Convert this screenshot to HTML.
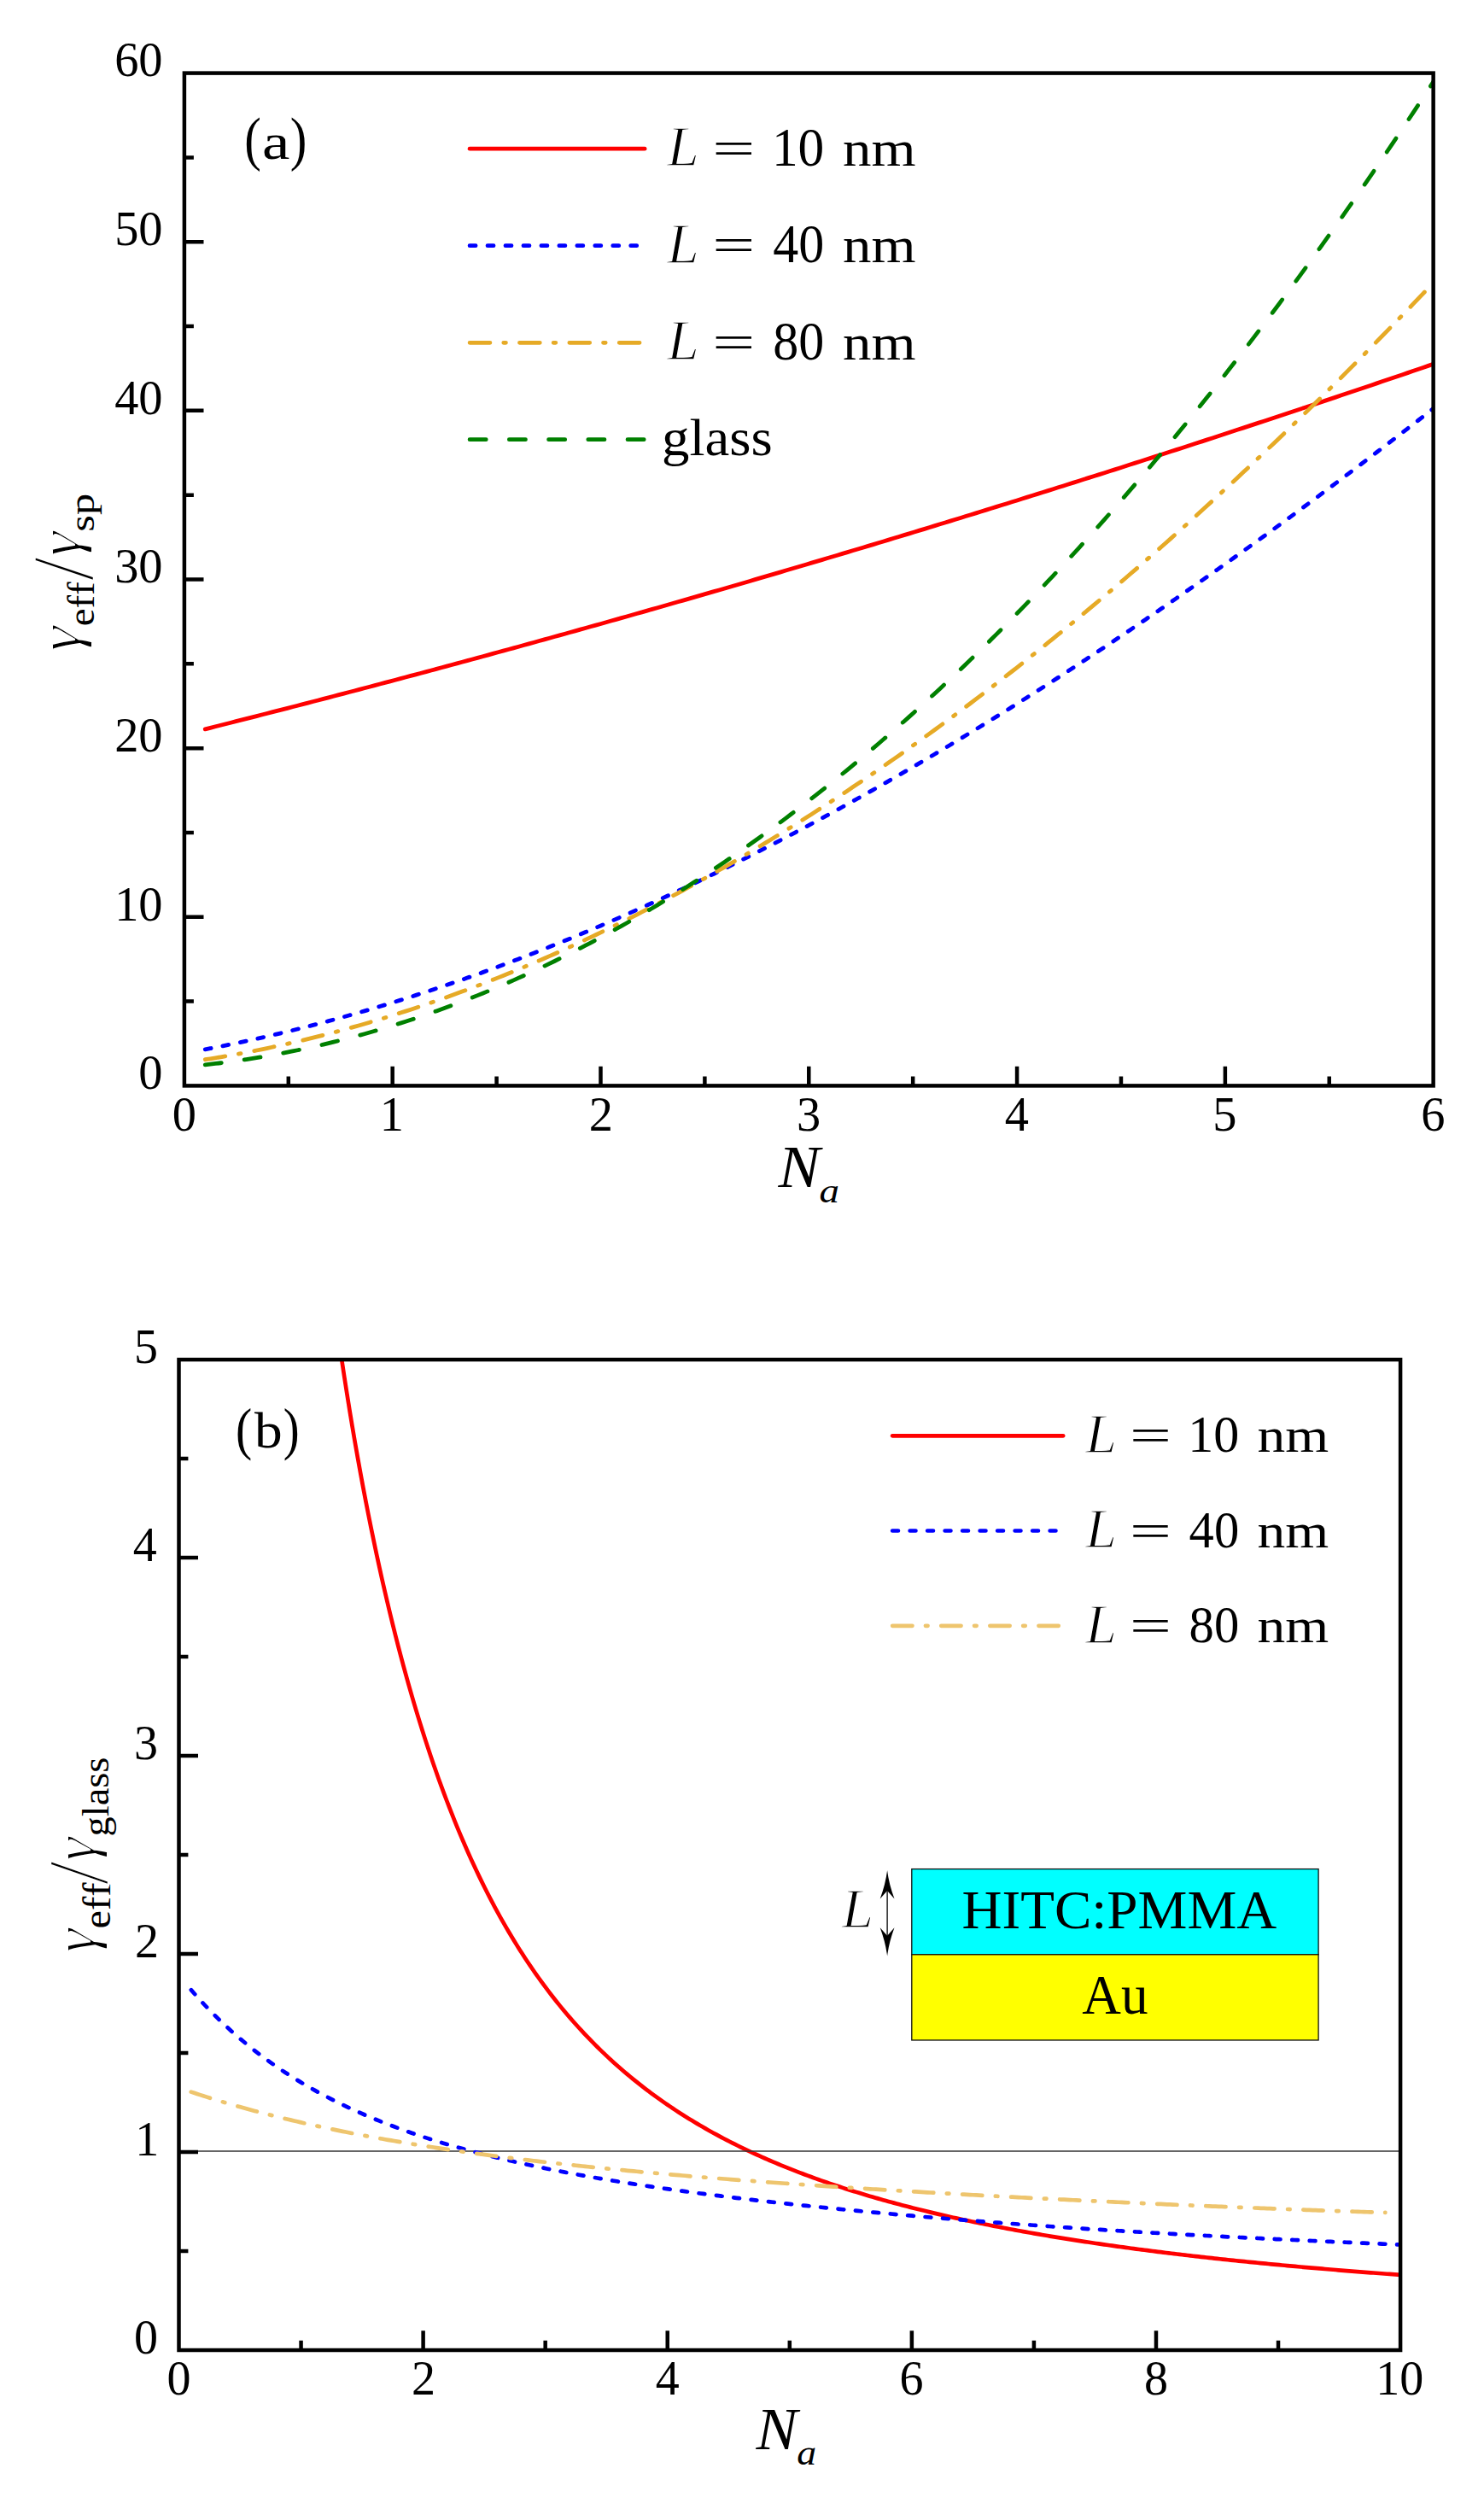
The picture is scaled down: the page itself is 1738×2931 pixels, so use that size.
<!DOCTYPE html>
<html lang="en"><head><meta charset="utf-8"><title>Figure: effective decay rates vs N_a</title>
<style>
html,body{margin:0;padding:0;background:#fff}
svg{display:block}
.t text, text{font-family:"Liberation Serif","DejaVu Serif",serif;font-kerning:none;font-variant-ligatures:none;fill:#000;stroke:#fff;stroke-width:0}
</style></head>
<body>
<svg width="1738" height="2931" viewBox="0 0 1738 2931">
<rect width="1738" height="2931" fill="#fff"/>
<clipPath id="ca"><rect x="215.9" y="85.6" width="1462.75" height="1185.80"/></clipPath>
<g clip-path="url(#ca)" fill="none" stroke-linecap="round" stroke-linejoin="round" stroke-width="4.8">
<path d="M240.28 853.82 L246.30 852.31 L252.32 850.79 L258.33 849.27 L264.35 847.75 L270.37 846.22 L276.39 844.70 L282.41 843.17 L288.43 841.64 L294.44 840.10 L300.46 838.57 L306.48 837.03 L312.50 835.49 L318.52 833.95 L324.54 832.40 L330.55 830.86 L336.57 829.31 L342.59 827.75 L348.61 826.20 L354.63 824.64 L360.64 823.09 L366.66 821.52 L372.68 819.96 L378.70 818.40 L384.72 816.83 L390.74 815.26 L396.75 813.68 L402.77 812.11 L408.79 810.53 L414.81 808.95 L420.83 807.37 L426.85 805.79 L432.86 804.20 L438.88 802.61 L444.90 801.02 L450.92 799.43 L456.94 797.83 L462.96 796.23 L468.97 794.63 L474.99 793.03 L481.01 791.43 L487.03 789.82 L493.05 788.21 L499.07 786.60 L505.08 784.99 L511.10 783.37 L517.12 781.75 L523.14 780.13 L529.16 778.51 L535.18 776.88 L541.19 775.25 L547.21 773.62 L553.23 771.99 L559.25 770.36 L565.27 768.72 L571.29 767.08 L577.30 765.44 L583.32 763.80 L589.34 762.15 L595.36 760.50 L601.38 758.85 L607.39 757.20 L613.41 755.54 L619.43 753.88 L625.45 752.22 L631.47 750.56 L637.49 748.90 L643.50 747.23 L649.52 745.56 L655.54 743.89 L661.56 742.22 L667.58 740.54 L673.60 738.86 L679.61 737.18 L685.63 735.50 L691.65 733.81 L697.67 732.13 L703.69 730.44 L709.71 728.74 L715.72 727.05 L721.74 725.35 L727.76 723.65 L733.78 721.95 L739.80 720.25 L745.82 718.54 L751.83 716.83 L757.85 715.12 L763.87 713.41 L769.89 711.70 L775.91 709.98 L781.93 708.26 L787.94 706.54 L793.96 704.81 L799.98 703.09 L806.00 701.36 L812.02 699.63 L818.03 697.89 L824.05 696.16 L830.07 694.42 L836.09 692.68 L842.11 690.93 L848.13 689.19 L854.14 687.44 L860.16 685.69 L866.18 683.94 L872.20 682.19 L878.22 680.43 L884.24 678.67 L890.25 676.91 L896.27 675.15 L902.29 673.38 L908.31 671.61 L914.33 669.84 L920.35 668.07 L926.36 666.30 L932.38 664.52 L938.40 662.74 L944.42 660.96 L950.44 659.17 L956.46 657.39 L962.47 655.60 L968.49 653.81 L974.51 652.01 L980.53 650.22 L986.55 648.42 L992.57 646.62 L998.58 644.82 L1004.60 643.01 L1010.62 641.20 L1016.64 639.40 L1022.66 637.58 L1028.67 635.77 L1034.69 633.95 L1040.71 632.13 L1046.73 630.31 L1052.75 628.49 L1058.77 626.67 L1064.78 624.84 L1070.80 623.01 L1076.82 621.17 L1082.84 619.34 L1088.86 617.50 L1094.88 615.66 L1100.89 613.82 L1106.91 611.98 L1112.93 610.13 L1118.95 608.28 L1124.97 606.43 L1130.99 604.58 L1137.00 602.72 L1143.02 600.87 L1149.04 599.01 L1155.06 597.14 L1161.08 595.28 L1167.10 593.41 L1173.11 591.54 L1179.13 589.67 L1185.15 587.80 L1191.17 585.92 L1197.19 584.04 L1203.21 582.16 L1209.22 580.28 L1215.24 578.39 L1221.26 576.51 L1227.28 574.62 L1233.30 572.72 L1239.31 570.83 L1245.33 568.93 L1251.35 567.03 L1257.37 565.13 L1263.39 563.23 L1269.41 561.32 L1275.42 559.41 L1281.44 557.50 L1287.46 555.59 L1293.48 553.68 L1299.50 551.76 L1305.52 549.84 L1311.53 547.92 L1317.55 545.99 L1323.57 544.07 L1329.59 542.14 L1335.61 540.21 L1341.63 538.27 L1347.64 536.34 L1353.66 534.40 L1359.68 532.46 L1365.70 530.51 L1371.72 528.57 L1377.74 526.62 L1383.75 524.67 L1389.77 522.72 L1395.79 520.77 L1401.81 518.81 L1407.83 516.85 L1413.85 514.89 L1419.86 512.93 L1425.88 510.96 L1431.90 508.99 L1437.92 507.02 L1443.94 505.05 L1449.96 503.07 L1455.97 501.10 L1461.99 499.12 L1468.01 497.13 L1474.03 495.15 L1480.05 493.16 L1486.06 491.18 L1492.08 489.18 L1498.10 487.19 L1504.12 485.19 L1510.14 483.20 L1516.16 481.20 L1522.17 479.19 L1528.19 477.19 L1534.21 475.18 L1540.23 473.17 L1546.25 471.16 L1552.27 469.15 L1558.28 467.13 L1564.30 465.11 L1570.32 463.09 L1576.34 461.07 L1582.36 459.04 L1588.38 457.01 L1594.39 454.98 L1600.41 452.95 L1606.43 450.92 L1612.45 448.88 L1618.47 446.84 L1624.49 444.80 L1630.50 442.75 L1636.52 440.71 L1642.54 438.66 L1648.56 436.61 L1654.58 434.56 L1660.60 432.50 L1666.61 430.44 L1672.63 428.38 L1678.65 426.32" stroke="#FF0000"/>
<path d="M240.28 1228.85 L246.30 1227.70 L252.32 1226.53 L258.33 1225.34 L264.35 1224.12 L270.37 1222.89 L276.39 1221.64 L282.41 1220.36 L288.43 1219.07 L294.44 1217.75 L300.46 1216.42 L306.48 1215.07 L312.50 1213.69 L318.52 1212.30 L324.54 1210.88 L330.55 1209.45 L336.57 1208.00 L342.59 1206.53 L348.61 1205.03 L354.63 1203.52 L360.64 1201.99 L366.66 1200.44 L372.68 1198.87 L378.70 1197.28 L384.72 1195.67 L390.74 1194.04 L396.75 1192.39 L402.77 1190.73 L408.79 1189.04 L414.81 1187.34 L420.83 1185.61 L426.85 1183.87 L432.86 1182.11 L438.88 1180.32 L444.90 1178.52 L450.92 1176.71 L456.94 1174.87 L462.96 1173.01 L468.97 1171.14 L474.99 1169.24 L481.01 1167.33 L487.03 1165.40 L493.05 1163.45 L499.07 1161.48 L505.08 1159.50 L511.10 1157.49 L517.12 1155.47 L523.14 1153.43 L529.16 1151.37 L535.18 1149.29 L541.19 1147.19 L547.21 1145.08 L553.23 1142.95 L559.25 1140.80 L565.27 1138.63 L571.29 1136.44 L577.30 1134.24 L583.32 1132.02 L589.34 1129.78 L595.36 1127.52 L601.38 1125.25 L607.39 1122.95 L613.41 1120.65 L619.43 1118.32 L625.45 1115.97 L631.47 1113.61 L637.49 1111.23 L643.50 1108.83 L649.52 1106.42 L655.54 1103.99 L661.56 1101.54 L667.58 1099.07 L673.60 1096.59 L679.61 1094.09 L685.63 1091.57 L691.65 1089.04 L697.67 1086.49 L703.69 1083.92 L709.71 1081.33 L715.72 1078.73 L721.74 1076.11 L727.76 1073.48 L733.78 1070.83 L739.80 1068.16 L745.82 1065.47 L751.83 1062.77 L757.85 1060.05 L763.87 1057.32 L769.89 1054.57 L775.91 1051.80 L781.93 1049.02 L787.94 1046.22 L793.96 1043.40 L799.98 1040.57 L806.00 1037.72 L812.02 1034.86 L818.03 1031.98 L824.05 1029.08 L830.07 1026.17 L836.09 1023.24 L842.11 1020.30 L848.13 1017.34 L854.14 1014.36 L860.16 1011.37 L866.18 1008.36 L872.20 1005.34 L878.22 1002.31 L884.24 999.25 L890.25 996.18 L896.27 993.10 L902.29 990.00 L908.31 986.89 L914.33 983.76 L920.35 980.61 L926.36 977.45 L932.38 974.28 L938.40 971.08 L944.42 967.88 L950.44 964.66 L956.46 961.42 L962.47 958.17 L968.49 954.91 L974.51 951.63 L980.53 948.33 L986.55 945.02 L992.57 941.70 L998.58 938.36 L1004.60 935.01 L1010.62 931.64 L1016.64 928.26 L1022.66 924.86 L1028.67 921.45 L1034.69 918.02 L1040.71 914.59 L1046.73 911.13 L1052.75 907.66 L1058.77 904.18 L1064.78 900.68 L1070.80 897.17 L1076.82 893.65 L1082.84 890.11 L1088.86 886.56 L1094.88 882.99 L1100.89 879.41 L1106.91 875.82 L1112.93 872.21 L1118.95 868.59 L1124.97 864.96 L1130.99 861.31 L1137.00 857.65 L1143.02 853.97 L1149.04 850.28 L1155.06 846.58 L1161.08 842.86 L1167.10 839.13 L1173.11 835.39 L1179.13 831.64 L1185.15 827.87 L1191.17 824.09 L1197.19 820.29 L1203.21 816.48 L1209.22 812.66 L1215.24 808.83 L1221.26 804.98 L1227.28 801.12 L1233.30 797.25 L1239.31 793.37 L1245.33 789.47 L1251.35 785.56 L1257.37 781.64 L1263.39 777.70 L1269.41 773.75 L1275.42 769.79 L1281.44 765.82 L1287.46 761.83 L1293.48 757.83 L1299.50 753.82 L1305.52 749.80 L1311.53 745.77 L1317.55 741.72 L1323.57 737.66 L1329.59 733.59 L1335.61 729.51 L1341.63 725.41 L1347.64 721.31 L1353.66 717.19 L1359.68 713.06 L1365.70 708.92 L1371.72 704.76 L1377.74 700.60 L1383.75 696.42 L1389.77 692.23 L1395.79 688.03 L1401.81 683.82 L1407.83 679.60 L1413.85 675.36 L1419.86 671.12 L1425.88 666.86 L1431.90 662.59 L1437.92 658.31 L1443.94 654.02 L1449.96 649.72 L1455.97 645.40 L1461.99 641.08 L1468.01 636.74 L1474.03 632.40 L1480.05 628.04 L1486.06 623.67 L1492.08 619.29 L1498.10 614.90 L1504.12 610.50 L1510.14 606.09 L1516.16 601.67 L1522.17 597.24 L1528.19 592.80 L1534.21 588.34 L1540.23 583.88 L1546.25 579.41 L1552.27 574.92 L1558.28 570.43 L1564.30 565.92 L1570.32 561.41 L1576.34 556.88 L1582.36 552.35 L1588.38 547.80 L1594.39 543.25 L1600.41 538.68 L1606.43 534.11 L1612.45 529.52 L1618.47 524.93 L1624.49 520.32 L1630.50 515.71 L1636.52 511.08 L1642.54 506.45 L1648.56 501.81 L1654.58 497.15 L1660.60 492.49 L1666.61 487.82 L1672.63 483.14 L1678.65 478.45" stroke="#0000FF" stroke-dasharray="6.95 14.01"/>
<path d="M240.28 1240.71 L246.30 1239.76 L252.32 1238.78 L258.33 1237.77 L264.35 1236.74 L270.37 1235.68 L276.39 1234.60 L282.41 1233.49 L288.43 1232.35 L294.44 1231.18 L300.46 1229.99 L306.48 1228.78 L312.50 1227.53 L318.52 1226.26 L324.54 1224.97 L330.55 1223.65 L336.57 1222.30 L342.59 1220.92 L348.61 1219.52 L354.63 1218.10 L360.64 1216.64 L366.66 1215.16 L372.68 1213.66 L378.70 1212.13 L384.72 1210.57 L390.74 1208.99 L396.75 1207.38 L402.77 1205.75 L408.79 1204.09 L414.81 1202.40 L420.83 1200.69 L426.85 1198.95 L432.86 1197.19 L438.88 1195.40 L444.90 1193.59 L450.92 1191.75 L456.94 1189.88 L462.96 1187.99 L468.97 1186.08 L474.99 1184.14 L481.01 1182.17 L487.03 1180.18 L493.05 1178.16 L499.07 1176.12 L505.08 1174.05 L511.10 1171.96 L517.12 1169.84 L523.14 1167.70 L529.16 1165.53 L535.18 1163.34 L541.19 1161.12 L547.21 1158.87 L553.23 1156.61 L559.25 1154.31 L565.27 1151.99 L571.29 1149.65 L577.30 1147.28 L583.32 1144.89 L589.34 1142.47 L595.36 1140.03 L601.38 1137.56 L607.39 1135.07 L613.41 1132.56 L619.43 1130.02 L625.45 1127.45 L631.47 1124.86 L637.49 1122.25 L643.50 1119.61 L649.52 1116.94 L655.54 1114.26 L661.56 1111.54 L667.58 1108.81 L673.60 1106.05 L679.61 1103.26 L685.63 1100.45 L691.65 1097.62 L697.67 1094.76 L703.69 1091.88 L709.71 1088.98 L715.72 1086.05 L721.74 1083.09 L727.76 1080.12 L733.78 1077.11 L739.80 1074.09 L745.82 1071.04 L751.83 1067.97 L757.85 1064.87 L763.87 1061.75 L769.89 1058.61 L775.91 1055.44 L781.93 1052.25 L787.94 1049.03 L793.96 1045.79 L799.98 1042.53 L806.00 1039.24 L812.02 1035.93 L818.03 1032.60 L824.05 1029.24 L830.07 1025.86 L836.09 1022.46 L842.11 1019.03 L848.13 1015.58 L854.14 1012.11 L860.16 1008.61 L866.18 1005.09 L872.20 1001.55 L878.22 997.98 L884.24 994.39 L890.25 990.78 L896.27 987.15 L902.29 983.49 L908.31 979.81 L914.33 976.10 L920.35 972.38 L926.36 968.63 L932.38 964.85 L938.40 961.06 L944.42 957.24 L950.44 953.40 L956.46 949.54 L962.47 945.65 L968.49 941.74 L974.51 937.81 L980.53 933.86 L986.55 929.88 L992.57 925.88 L998.58 921.86 L1004.60 917.81 L1010.62 913.75 L1016.64 909.66 L1022.66 905.55 L1028.67 901.42 L1034.69 897.26 L1040.71 893.08 L1046.73 888.88 L1052.75 884.66 L1058.77 880.42 L1064.78 876.15 L1070.80 871.86 L1076.82 867.55 L1082.84 863.22 L1088.86 858.87 L1094.88 854.49 L1100.89 850.09 L1106.91 845.67 L1112.93 841.23 L1118.95 836.77 L1124.97 832.28 L1130.99 827.77 L1137.00 823.25 L1143.02 818.70 L1149.04 814.12 L1155.06 809.53 L1161.08 804.92 L1167.10 800.28 L1173.11 795.62 L1179.13 790.94 L1185.15 786.24 L1191.17 781.52 L1197.19 776.78 L1203.21 772.01 L1209.22 767.23 L1215.24 762.42 L1221.26 757.59 L1227.28 752.74 L1233.30 747.87 L1239.31 742.98 L1245.33 738.07 L1251.35 733.13 L1257.37 728.18 L1263.39 723.20 L1269.41 718.20 L1275.42 713.19 L1281.44 708.15 L1287.46 703.09 L1293.48 698.01 L1299.50 692.91 L1305.52 687.79 L1311.53 682.64 L1317.55 677.48 L1323.57 672.30 L1329.59 667.09 L1335.61 661.87 L1341.63 656.62 L1347.64 651.36 L1353.66 646.07 L1359.68 640.77 L1365.70 635.44 L1371.72 630.09 L1377.74 624.72 L1383.75 619.34 L1389.77 613.93 L1395.79 608.50 L1401.81 603.05 L1407.83 597.58 L1413.85 592.09 L1419.86 586.58 L1425.88 581.06 L1431.90 575.51 L1437.92 569.94 L1443.94 564.35 L1449.96 558.74 L1455.97 553.11 L1461.99 547.46 L1468.01 541.80 L1474.03 536.11 L1480.05 530.40 L1486.06 524.67 L1492.08 518.92 L1498.10 513.16 L1504.12 507.37 L1510.14 501.57 L1516.16 495.74 L1522.17 489.90 L1528.19 484.03 L1534.21 478.15 L1540.23 472.24 L1546.25 466.32 L1552.27 460.38 L1558.28 454.42 L1564.30 448.44 L1570.32 442.44 L1576.34 436.42 L1582.36 430.38 L1588.38 424.32 L1594.39 418.25 L1600.41 412.15 L1606.43 406.04 L1612.45 399.90 L1618.47 393.75 L1624.49 387.58 L1630.50 381.39 L1636.52 375.18 L1642.54 368.95 L1648.56 362.71 L1654.58 356.44 L1660.60 350.16 L1666.61 343.85 L1672.63 337.53 L1678.65 331.19" stroke="#E6AA26" stroke-dasharray="23.82 15.85 2.66 16.05"/>
<path d="M240.28 1246.87 L246.30 1246.20 L252.32 1245.49 L258.33 1244.75 L264.35 1243.98 L270.37 1243.17 L276.39 1242.34 L282.41 1241.47 L288.43 1240.57 L294.44 1239.63 L300.46 1238.66 L306.48 1237.66 L312.50 1236.63 L318.52 1235.56 L324.54 1234.46 L330.55 1233.33 L336.57 1232.17 L342.59 1230.97 L348.61 1229.74 L354.63 1228.47 L360.64 1227.18 L366.66 1225.85 L372.68 1224.48 L378.70 1223.09 L384.72 1221.66 L390.74 1220.19 L396.75 1218.70 L402.77 1217.17 L408.79 1215.61 L414.81 1214.01 L420.83 1212.38 L426.85 1210.72 L432.86 1209.02 L438.88 1207.29 L444.90 1205.53 L450.92 1203.73 L456.94 1201.90 L462.96 1200.04 L468.97 1198.14 L474.99 1196.21 L481.01 1194.25 L487.03 1192.25 L493.05 1190.22 L499.07 1188.15 L505.08 1186.05 L511.10 1183.92 L517.12 1181.75 L523.14 1179.55 L529.16 1177.32 L535.18 1175.05 L541.19 1172.75 L547.21 1170.41 L553.23 1168.04 L559.25 1165.64 L565.27 1163.20 L571.29 1160.73 L577.30 1158.22 L583.32 1155.68 L589.34 1153.10 L595.36 1150.49 L601.38 1147.85 L607.39 1145.17 L613.41 1142.46 L619.43 1139.72 L625.45 1136.94 L631.47 1134.12 L637.49 1131.27 L643.50 1128.39 L649.52 1125.47 L655.54 1122.52 L661.56 1119.53 L667.58 1116.51 L673.60 1113.46 L679.61 1110.36 L685.63 1107.24 L691.65 1104.08 L697.67 1100.89 L703.69 1097.66 L709.71 1094.39 L715.72 1091.09 L721.74 1087.76 L727.76 1084.39 L733.78 1080.99 L739.80 1077.55 L745.82 1074.08 L751.83 1070.57 L757.85 1067.03 L763.87 1063.45 L769.89 1059.84 L775.91 1056.19 L781.93 1052.51 L787.94 1048.79 L793.96 1045.04 L799.98 1041.25 L806.00 1037.43 L812.02 1033.57 L818.03 1029.68 L824.05 1025.75 L830.07 1021.78 L836.09 1017.78 L842.11 1013.75 L848.13 1009.68 L854.14 1005.57 L860.16 1001.43 L866.18 997.25 L872.20 993.04 L878.22 988.80 L884.24 984.51 L890.25 980.19 L896.27 975.84 L902.29 971.45 L908.31 967.02 L914.33 962.56 L920.35 958.07 L926.36 953.53 L932.38 948.96 L938.40 944.36 L944.42 939.72 L950.44 935.04 L956.46 930.33 L962.47 925.58 L968.49 920.80 L974.51 915.98 L980.53 911.12 L986.55 906.23 L992.57 901.31 L998.58 896.34 L1004.60 891.34 L1010.62 886.31 L1016.64 881.23 L1022.66 876.12 L1028.67 870.98 L1034.69 865.80 L1040.71 860.58 L1046.73 855.33 L1052.75 850.04 L1058.77 844.71 L1064.78 839.35 L1070.80 833.95 L1076.82 828.51 L1082.84 823.04 L1088.86 817.53 L1094.88 811.99 L1100.89 806.40 L1106.91 800.79 L1112.93 795.13 L1118.95 789.44 L1124.97 783.71 L1130.99 777.95 L1137.00 772.14 L1143.02 766.31 L1149.04 760.43 L1155.06 754.52 L1161.08 748.57 L1167.10 742.58 L1173.11 736.56 L1179.13 730.50 L1185.15 724.40 L1191.17 718.27 L1197.19 712.10 L1203.21 705.89 L1209.22 699.64 L1215.24 693.36 L1221.26 687.04 L1227.28 680.69 L1233.30 674.29 L1239.31 667.86 L1245.33 661.39 L1251.35 654.89 L1257.37 648.34 L1263.39 641.76 L1269.41 635.15 L1275.42 628.49 L1281.44 621.80 L1287.46 615.07 L1293.48 608.30 L1299.50 601.50 L1305.52 594.65 L1311.53 587.77 L1317.55 580.86 L1323.57 573.90 L1329.59 566.91 L1335.61 559.88 L1341.63 552.81 L1347.64 545.70 L1353.66 538.56 L1359.68 531.38 L1365.70 524.16 L1371.72 516.90 L1377.74 509.61 L1383.75 502.27 L1389.77 494.90 L1395.79 487.49 L1401.81 480.05 L1407.83 472.56 L1413.85 465.04 L1419.86 457.48 L1425.88 449.88 L1431.90 442.24 L1437.92 434.56 L1443.94 426.85 L1449.96 419.10 L1455.97 411.31 L1461.99 403.48 L1468.01 395.61 L1474.03 387.71 L1480.05 379.76 L1486.06 371.78 L1492.08 363.76 L1498.10 355.70 L1504.12 347.60 L1510.14 339.47 L1516.16 331.29 L1522.17 323.08 L1528.19 314.83 L1534.21 306.54 L1540.23 298.21 L1546.25 289.84 L1552.27 281.43 L1558.28 272.99 L1564.30 264.50 L1570.32 255.98 L1576.34 247.42 L1582.36 238.82 L1588.38 230.18 L1594.39 221.50 L1600.41 212.78 L1606.43 204.03 L1612.45 195.23 L1618.47 186.40 L1624.49 177.52 L1630.50 168.61 L1636.52 159.66 L1642.54 150.67 L1648.56 141.64 L1654.58 132.57 L1660.60 123.46 L1666.61 114.31 L1672.63 105.13 L1678.65 95.90" stroke="#008000" stroke-dasharray="19.12 27.12"/>
</g>
<g stroke="#000" stroke-width="4.5" fill="none" stroke-linecap="butt">
<rect x="215.9" y="85.6" width="1462.75" height="1185.80"/>
<path d="M337.80 1271.4 V1260.40 M459.69 1271.4 V1248.80 M581.59 1271.4 V1260.40 M703.48 1271.4 V1248.80 M825.38 1271.4 V1260.40 M947.27 1271.4 V1248.80 M1069.17 1271.4 V1260.40 M1191.07 1271.4 V1248.80 M1312.96 1271.4 V1260.40 M1434.86 1271.4 V1248.80 M1556.75 1271.4 V1260.40 M215.9 1172.58 H226.90 M215.9 1073.77 H238.50 M215.9 974.95 H226.90 M215.9 876.13 H238.50 M215.9 777.32 H226.90 M215.9 678.50 H238.50 M215.9 579.68 H226.90 M215.9 480.87 H238.50 M215.9 382.05 H226.90 M215.9 283.23 H238.50 M215.9 184.42 H226.90 "/>
</g>
<g class="t">
<text transform="matrix(1.0 0 0 1 201.80 1324.10)" font-size="56.4">0</text>
<text transform="matrix(1.0 0 0 1 444.81 1324.10)" font-size="56.4">1</text>
<text transform="matrix(1.0 0 0 1 689.70 1324.10)" font-size="56.4">2</text>
<text transform="matrix(1.0 0 0 1 932.93 1324.10)" font-size="56.4">3</text>
<text transform="matrix(1.0 0 0 1 1176.86 1324.10)" font-size="56.4">4</text>
<text transform="matrix(1.0 0 0 1 1420.22 1324.10)" font-size="56.4">5</text>
<text transform="matrix(1.0 0 0 1 1664.18 1324.10)" font-size="56.4">6</text>
<text transform="matrix(1.0 0 0 1 162.35 1275.20)" font-size="56.4">0</text>
<text transform="matrix(1.0 0 0 1 134.15 1077.57)" font-size="56.4">10</text>
<text transform="matrix(1.0 0 0 1 134.15 879.93)" font-size="56.4">20</text>
<text transform="matrix(1.0 0 0 1 134.15 682.30)" font-size="56.4">30</text>
<text transform="matrix(1.0 0 0 1 134.15 484.67)" font-size="56.4">40</text>
<text transform="matrix(1.0 0 0 1 134.15 287.03)" font-size="56.4">50</text>
<text transform="matrix(1.0 0 0 1 134.15 89.40)" font-size="56.4">60</text>
</g>
<g class="t">
<text transform="matrix(1.0474 0 0 1 911.54 1390.00)" font-size="69.95" font-style="italic" fill="#000">N</text>
<text transform="matrix(1.1456 0 0 1 959.60 1407.98)" font-size="40.96" font-style="italic" fill="#000">a</text>
<text style="stroke-width:2px" transform="matrix(0 -1.0948 1 0 92.65 763.60)" font-size="70.70" font-style="italic" fill="#000">γ</text>
<text transform="matrix(0 -1.0405 1 0 110.36 733.23)" font-size="44.97" fill="#000">eff</text>
<text style="stroke-width:2.4px" transform="matrix(0 -0.9811 1 0 108.58 680.30)" font-size="104.19" fill="#000">/</text>
<text style="stroke-width:2px" transform="matrix(0 -1.0770 1 0 92.65 652.28)" font-size="70.70" font-style="italic" fill="#000">γ</text>
<text transform="matrix(0 -1.2176 1 0 109.86 622.77)" font-size="41.52" fill="#000">sp</text>
<text transform="matrix(0.8502 0 0 1 286.22 186.28)" font-size="69.15" fill="#000">(</text>
<text transform="matrix(1.2254 0 0 1 306.94 185.52)" font-size="59.50" fill="#000">a</text>
<text transform="matrix(0.8502 0 0 1 339.71 186.28)" font-size="69.15" fill="#000">)</text>
</g>
<g fill="none" stroke-linecap="round" stroke-width="4.8">
<path d="M550.10 174.2 H755.10" stroke="#FF0000"/>
<path d="M550.10 287.7 H755.10" stroke="#0000FF" stroke-dasharray="6.95 14.01"/>
<path d="M550.10 401.3 H755.10" stroke="#E6AA26" stroke-dasharray="23.82 15.85 2.66 16.05"/>
<path d="M550.10 514.7 H755.10" stroke="#008000" stroke-dasharray="19.12 27.12"/>
</g>
<g class="t">
<text style="stroke-width:1.3px" transform="matrix(1.0133 0 0 1 781.19 194.20)" font-size="66.74" font-style="italic" fill="#000">L</text>
<text transform="matrix(1.5626 0 0 1 834.28 192.86)" font-size="56.80" fill="#000">=</text>
<text transform="matrix(0.9732 0 0 1 903.90 193.78)" font-size="63.13" fill="#000">10</text>
<text transform="matrix(1.1434 0 0 1 986.96 193.60)" font-size="58.57" fill="#000">nm</text>
<text style="stroke-width:1.3px" transform="matrix(1.0133 0 0 1 781.19 307.80)" font-size="66.74" font-style="italic" fill="#000">L</text>
<text transform="matrix(1.5626 0 0 1 834.28 306.46)" font-size="56.80" fill="#000">=</text>
<text transform="matrix(0.9497 0 0 1 905.33 307.38)" font-size="63.13" fill="#000">40</text>
<text transform="matrix(1.1434 0 0 1 986.96 307.20)" font-size="58.57" fill="#000">nm</text>
<text style="stroke-width:1.3px" transform="matrix(1.0133 0 0 1 781.19 421.40)" font-size="66.74" font-style="italic" fill="#000">L</text>
<text transform="matrix(1.5626 0 0 1 834.28 420.06)" font-size="56.80" fill="#000">=</text>
<text transform="matrix(0.9499 0 0 1 905.32 420.98)" font-size="63.13" fill="#000">80</text>
<text transform="matrix(1.1434 0 0 1 986.96 420.80)" font-size="58.57" fill="#000">nm</text>
<text transform="matrix(1.0739 0 0 1 775.02 533.37)" font-size="60.35" fill="#000">glass</text>
</g>
<clipPath id="cb"><rect x="209.5" y="1592.1" width="1430.60" height="1159.90"/></clipPath>
<g clip-path="url(#cb)" fill="none" stroke-linecap="round" stroke-linejoin="round" stroke-width="4.7">
<path d="M381.17 1450.14 L384.33 1475.89 L387.48 1500.66 L390.64 1524.54 L393.79 1547.59 L396.95 1569.86 L400.10 1591.40 L403.26 1612.25 L406.41 1632.46 L409.57 1652.06 L412.72 1671.09 L415.88 1689.56 L419.03 1707.52 L422.19 1724.98 L425.34 1741.96 L428.50 1758.50 L431.66 1774.60 L434.81 1790.29 L437.97 1805.58 L441.12 1820.49 L444.28 1835.03 L447.43 1849.21 L450.59 1863.06 L453.74 1876.57 L456.90 1889.77 L460.05 1902.66 L463.21 1915.25 L466.36 1927.56 L469.52 1939.58 L472.67 1951.34 L475.83 1962.83 L478.98 1974.07 L482.14 1985.07 L485.29 1995.82 L488.45 2006.35 L491.60 2016.64 L494.76 2026.72 L497.91 2036.59 L501.07 2046.25 L504.23 2055.70 L507.38 2064.96 L510.54 2074.03 L513.69 2082.92 L516.85 2091.62 L520.00 2100.15 L523.16 2108.51 L526.31 2116.69 L529.47 2124.72 L532.62 2132.59 L535.78 2140.30 L538.93 2147.86 L542.09 2155.28 L545.24 2162.55 L548.40 2169.68 L551.55 2176.68 L554.71 2183.54 L557.86 2190.27 L561.02 2196.88 L564.17 2203.36 L567.33 2209.72 L570.48 2215.97 L573.64 2222.10 L576.79 2228.11 L579.95 2234.02 L583.11 2239.82 L586.26 2245.52 L589.42 2251.11 L592.57 2256.60 L595.73 2262.00 L598.88 2267.30 L602.04 2272.50 L605.19 2277.62 L608.35 2282.65 L611.50 2287.59 L614.66 2292.44 L617.81 2297.22 L620.97 2301.91 L624.12 2306.52 L627.28 2311.05 L630.43 2315.51 L633.59 2319.89 L636.74 2324.20 L639.90 2328.44 L643.05 2332.61 L646.21 2336.71 L649.36 2340.75 L652.52 2344.71 L655.68 2348.62 L658.83 2352.46 L661.99 2356.24 L665.14 2359.96 L668.30 2363.63 L671.45 2367.23 L674.61 2370.78 L677.76 2374.27 L680.92 2377.71 L684.07 2381.10 L687.23 2384.43 L690.38 2387.72 L693.54 2390.95 L696.69 2394.14 L699.85 2397.28 L703.00 2400.37 L706.16 2403.41 L709.31 2406.41 L712.47 2409.37 L715.62 2412.28 L718.78 2415.15 L721.93 2417.98 L725.09 2420.76 L728.24 2423.51 L731.40 2426.22 L734.56 2428.89 L737.71 2431.52 L740.87 2434.12 L744.02 2436.67 L747.18 2439.20 L750.33 2441.68 L753.49 2444.14 L756.64 2446.56 L759.80 2448.94 L762.95 2451.30 L766.11 2453.62 L769.26 2455.91 L772.42 2458.17 L775.57 2460.40 L778.73 2462.60 L781.88 2464.77 L785.04 2466.92 L788.19 2469.03 L791.35 2471.12 L794.50 2473.18 L797.66 2475.21 L800.81 2477.22 L803.97 2479.20 L807.13 2481.16 L810.28 2483.09 L813.44 2485.00 L816.59 2486.88 L819.75 2488.74 L822.90 2490.58 L826.06 2492.39 L829.21 2494.18 L832.37 2495.95 L835.52 2497.70 L838.68 2499.43 L841.83 2501.13 L844.99 2502.82 L848.14 2504.48 L851.30 2506.13 L854.45 2507.75 L857.61 2509.36 L860.76 2510.95 L863.92 2512.52 L867.07 2514.07 L870.23 2515.60 L873.38 2517.12 L876.54 2518.61 L879.69 2520.09 L882.85 2521.56 L886.01 2523.00 L889.16 2524.43 L892.32 2525.85 L895.47 2527.25 L898.63 2528.63 L901.78 2530.00 L904.94 2531.35 L908.09 2532.69 L911.25 2534.01 L914.40 2535.32 L917.56 2536.61 L920.71 2537.89 L923.87 2539.16 L927.02 2540.41 L930.18 2541.65 L933.33 2542.88 L936.49 2544.09 L939.64 2545.29 L942.80 2546.48 L945.95 2547.65 L949.11 2548.82 L952.26 2549.97 L955.42 2551.11 L958.58 2552.23 L961.73 2553.35 L964.89 2554.45 L968.04 2555.55 L971.20 2556.63 L974.35 2557.70 L977.51 2558.76 L980.66 2559.81 L983.82 2560.85 L986.97 2561.88 L990.13 2562.90 L993.28 2563.90 L996.44 2564.90 L999.59 2565.89 L1002.75 2566.87 L1005.90 2567.84 L1009.06 2568.80 L1012.21 2569.75 L1015.37 2570.69 L1018.52 2571.63 L1021.68 2572.55 L1024.83 2573.47 L1027.99 2574.37 L1031.14 2575.27 L1034.30 2576.16 L1037.46 2577.04 L1040.61 2577.92 L1043.77 2578.78 L1046.92 2579.64 L1050.08 2580.49 L1053.23 2581.33 L1056.39 2582.17 L1059.54 2582.99 L1062.70 2583.81 L1065.85 2584.62 L1069.01 2585.43 L1072.16 2586.22 L1075.32 2587.01 L1078.47 2587.80 L1081.63 2588.57 L1084.78 2589.34 L1087.94 2590.10 L1091.09 2590.86 L1094.25 2591.61 L1097.40 2592.35 L1100.56 2593.09 L1103.71 2593.82 L1106.87 2594.54 L1110.03 2595.26 L1113.18 2595.97 L1116.34 2596.67 L1119.49 2597.37 L1122.65 2598.07 L1125.80 2598.75 L1128.96 2599.44 L1132.11 2600.11 L1135.27 2600.78 L1138.42 2601.45 L1141.58 2602.11 L1144.73 2602.76 L1147.89 2603.41 L1151.04 2604.05 L1154.20 2604.69 L1157.35 2605.32 L1160.51 2605.95 L1163.66 2606.57 L1166.82 2607.19 L1169.97 2607.80 L1173.13 2608.41 L1176.28 2609.01 L1179.44 2609.61 L1182.59 2610.20 L1185.75 2610.79 L1188.91 2611.37 L1192.06 2611.95 L1195.22 2612.53 L1198.37 2613.10 L1201.53 2613.66 L1204.68 2614.22 L1207.84 2614.78 L1210.99 2615.33 L1214.15 2615.88 L1217.30 2616.43 L1220.46 2616.97 L1223.61 2617.50 L1226.77 2618.03 L1229.92 2618.56 L1233.08 2619.09 L1236.23 2619.61 L1239.39 2620.12 L1242.54 2620.63 L1245.70 2621.14 L1248.85 2621.65 L1252.01 2622.15 L1255.16 2622.64 L1258.32 2623.14 L1261.48 2623.63 L1264.63 2624.11 L1267.79 2624.60 L1270.94 2625.08 L1274.10 2625.55 L1277.25 2626.02 L1280.41 2626.49 L1283.56 2626.96 L1286.72 2627.42 L1289.87 2627.88 L1293.03 2628.33 L1296.18 2628.79 L1299.34 2629.24 L1302.49 2629.68 L1305.65 2630.12 L1308.80 2630.56 L1311.96 2631.00 L1315.11 2631.43 L1318.27 2631.86 L1321.42 2632.29 L1324.58 2632.72 L1327.73 2633.14 L1330.89 2633.56 L1334.04 2633.97 L1337.20 2634.38 L1340.36 2634.79 L1343.51 2635.20 L1346.67 2635.61 L1349.82 2636.01 L1352.98 2636.41 L1356.13 2636.80 L1359.29 2637.20 L1362.44 2637.59 L1365.60 2637.98 L1368.75 2638.36 L1371.91 2638.74 L1375.06 2639.12 L1378.22 2639.50 L1381.37 2639.88 L1384.53 2640.25 L1387.68 2640.62 L1390.84 2640.99 L1393.99 2641.36 L1397.15 2641.72 L1400.30 2642.08 L1403.46 2642.44 L1406.61 2642.79 L1409.77 2643.15 L1412.93 2643.50 L1416.08 2643.85 L1419.24 2644.20 L1422.39 2644.54 L1425.55 2644.88 L1428.70 2645.22 L1431.86 2645.56 L1435.01 2645.90 L1438.17 2646.23 L1441.32 2646.56 L1444.48 2646.89 L1447.63 2647.22 L1450.79 2647.55 L1453.94 2647.87 L1457.10 2648.19 L1460.25 2648.51 L1463.41 2648.83 L1466.56 2649.15 L1469.72 2649.46 L1472.87 2649.77 L1476.03 2650.08 L1479.18 2650.39 L1482.34 2650.69 L1485.49 2651.00 L1488.65 2651.30 L1491.81 2651.60 L1494.96 2651.90 L1498.12 2652.20 L1501.27 2652.49 L1504.43 2652.78 L1507.58 2653.07 L1510.74 2653.36 L1513.89 2653.65 L1517.05 2653.94 L1520.20 2654.22 L1523.36 2654.50 L1526.51 2654.79 L1529.67 2655.06 L1532.82 2655.34 L1535.98 2655.62 L1539.13 2655.89 L1542.29 2656.16 L1545.44 2656.44 L1548.60 2656.70 L1551.75 2656.97 L1554.91 2657.24 L1558.06 2657.50 L1561.22 2657.77 L1564.38 2658.03 L1567.53 2658.29 L1570.69 2658.55 L1573.84 2658.80 L1577.00 2659.06 L1580.15 2659.31 L1583.31 2659.57 L1586.46 2659.82 L1589.62 2660.07 L1592.77 2660.31 L1595.93 2660.56 L1599.08 2660.81 L1602.24 2661.05 L1605.39 2661.29 L1608.55 2661.53 L1611.70 2661.77 L1614.86 2662.01 L1618.01 2662.25 L1621.17 2662.49 L1624.32 2662.72 L1627.48 2662.95 L1630.63 2663.18 L1633.79 2663.41 L1636.94 2663.64 L1640.10 2663.87" stroke="#FF0000"/>
<path d="M209.5 2519.0 H1640.1" stroke="#333" stroke-width="1.5" stroke-linecap="butt"/>
<path d="M223.81 2330.16 L227.36 2334.23 L230.91 2338.23 L234.45 2342.15 L238.00 2345.99 L241.55 2349.76 L245.10 2353.45 L248.65 2357.08 L252.20 2360.64 L255.75 2364.13 L259.30 2367.55 L262.85 2370.91 L266.40 2374.21 L269.95 2377.44 L273.50 2380.62 L277.05 2383.74 L280.60 2386.80 L284.15 2389.81 L287.70 2392.76 L291.25 2395.66 L294.80 2398.51 L298.35 2401.30 L301.90 2404.05 L305.45 2406.75 L309.00 2409.40 L312.55 2412.00 L316.10 2414.56 L319.65 2417.08 L323.20 2419.55 L326.74 2421.98 L330.29 2424.37 L333.84 2426.71 L337.39 2429.02 L340.94 2431.29 L344.49 2433.52 L348.04 2435.72 L351.59 2437.87 L355.14 2440.00 L358.69 2442.08 L362.24 2444.14 L365.79 2446.16 L369.34 2448.14 L372.89 2450.10 L376.44 2452.02 L379.99 2453.92 L383.54 2455.78 L387.09 2457.62 L390.64 2459.42 L394.19 2461.20 L397.74 2462.95 L401.29 2464.67 L404.84 2466.37 L408.39 2468.04 L411.94 2469.68 L415.48 2471.30 L419.03 2472.90 L422.58 2474.47 L426.13 2476.02 L429.68 2477.54 L433.23 2479.05 L436.78 2480.53 L440.33 2481.99 L443.88 2483.43 L447.43 2484.84 L450.98 2486.24 L454.53 2487.62 L458.08 2488.97 L461.63 2490.31 L465.18 2491.63 L468.73 2492.93 L472.28 2494.22 L475.83 2495.48 L479.38 2496.73 L482.93 2497.96 L486.48 2499.17 L490.03 2500.37 L493.58 2501.55 L497.13 2502.72 L500.68 2503.87 L504.23 2505.00 L507.77 2506.12 L511.32 2507.23 L514.87 2508.32 L518.42 2509.40 L521.97 2510.46 L525.52 2511.51 L529.07 2512.54 L532.62 2513.57 L536.17 2514.58 L539.72 2515.58 L543.27 2516.56 L546.82 2517.53 L550.37 2518.49 L553.92 2519.44 L557.47 2520.38 L561.02 2521.31 L564.57 2522.22 L568.12 2523.13 L571.67 2524.02 L575.22 2524.91 L578.77 2525.78 L582.32 2526.64 L585.87 2527.50 L589.42 2528.34 L592.97 2529.17 L596.51 2530.00 L600.06 2530.81 L603.61 2531.62 L607.16 2532.42 L610.71 2533.21 L614.26 2533.98 L617.81 2534.76 L621.36 2535.52 L624.91 2536.27 L628.46 2537.02 L632.01 2537.76 L635.56 2538.49 L639.11 2539.21 L642.66 2539.93 L646.21 2540.64 L649.76 2541.34 L653.31 2542.04 L656.86 2542.72 L660.41 2543.40 L663.96 2544.08 L667.51 2544.75 L671.06 2545.41 L674.61 2546.06 L678.16 2546.71 L681.71 2547.35 L685.26 2547.99 L688.80 2548.62 L692.35 2549.24 L695.90 2549.86 L699.45 2550.47 L703.00 2551.08 L706.55 2551.68 L710.10 2552.27 L713.65 2552.86 L717.20 2553.45 L720.75 2554.03 L724.30 2554.61 L727.85 2555.18 L731.40 2555.74 L734.95 2556.30 L738.50 2556.86 L742.05 2557.41 L745.60 2557.95 L749.15 2558.50 L752.70 2559.03 L756.25 2559.57 L759.80 2560.09 L763.35 2560.62 L766.90 2561.14 L770.45 2561.65 L774.00 2562.17 L777.55 2562.67 L781.09 2563.18 L784.64 2563.68 L788.19 2564.17 L791.74 2564.67 L795.29 2565.16 L798.84 2565.64 L802.39 2566.12 L805.94 2566.60 L809.49 2567.07 L813.04 2567.55 L816.59 2568.01 L820.14 2568.48 L823.69 2568.94 L827.24 2569.40 L830.79 2569.85 L834.34 2570.30 L837.89 2570.75 L841.44 2571.20 L844.99 2571.64 L848.54 2572.08 L852.09 2572.51 L855.64 2572.95 L859.19 2573.38 L862.74 2573.80 L866.29 2574.23 L869.83 2574.65 L873.38 2575.07 L876.93 2575.49 L880.48 2575.90 L884.03 2576.31 L887.58 2576.72 L891.13 2577.13 L894.68 2577.53 L898.23 2577.93 L901.78 2578.33 L905.33 2578.73 L908.88 2579.12 L912.43 2579.51 L915.98 2579.90 L919.53 2580.29 L923.08 2580.67 L926.63 2581.05 L930.18 2581.43 L933.73 2581.81 L937.28 2582.19 L940.83 2582.56 L944.38 2582.93 L947.93 2583.30 L951.48 2583.67 L955.03 2584.03 L958.58 2584.39 L962.12 2584.76 L965.67 2585.11 L969.22 2585.47 L972.77 2585.83 L976.32 2586.18 L979.87 2586.53 L983.42 2586.88 L986.97 2587.22 L990.52 2587.57 L994.07 2587.91 L997.62 2588.25 L1001.17 2588.59 L1004.72 2588.93 L1008.27 2589.27 L1011.82 2589.60 L1015.37 2589.93 L1018.92 2590.26 L1022.47 2590.59 L1026.02 2590.92 L1029.57 2591.24 L1033.12 2591.57 L1036.67 2591.89 L1040.22 2592.21 L1043.77 2592.53 L1047.32 2592.84 L1050.86 2593.16 L1054.41 2593.47 L1057.96 2593.78 L1061.51 2594.09 L1065.06 2594.40 L1068.61 2594.71 L1072.16 2595.01 L1075.71 2595.32 L1079.26 2595.62 L1082.81 2595.92 L1086.36 2596.22 L1089.91 2596.52 L1093.46 2596.81 L1097.01 2597.11 L1100.56 2597.40 L1104.11 2597.69 L1107.66 2597.98 L1111.21 2598.27 L1114.76 2598.56 L1118.31 2598.84 L1121.86 2599.13 L1125.41 2599.41 L1128.96 2599.69 L1132.51 2599.97 L1136.06 2600.25 L1139.61 2600.52 L1143.15 2600.80 L1146.70 2601.07 L1150.25 2601.35 L1153.80 2601.62 L1157.35 2601.89 L1160.90 2602.16 L1164.45 2602.42 L1168.00 2602.69 L1171.55 2602.95 L1175.10 2603.21 L1178.65 2603.48 L1182.20 2603.74 L1185.75 2603.99 L1189.30 2604.25 L1192.85 2604.51 L1196.40 2604.76 L1199.95 2605.02 L1203.50 2605.27 L1207.05 2605.52 L1210.60 2605.77 L1214.15 2606.02 L1217.70 2606.26 L1221.25 2606.51 L1224.80 2606.75 L1228.35 2607.00 L1231.89 2607.24 L1235.44 2607.48 L1238.99 2607.72 L1242.54 2607.95 L1246.09 2608.19 L1249.64 2608.43 L1253.19 2608.66 L1256.74 2608.89 L1260.29 2609.12 L1263.84 2609.36 L1267.39 2609.58 L1270.94 2609.81 L1274.49 2610.04 L1278.04 2610.26 L1281.59 2610.49 L1285.14 2610.71 L1288.69 2610.93 L1292.24 2611.15 L1295.79 2611.37 L1299.34 2611.59 L1302.89 2611.81 L1306.44 2612.03 L1309.99 2612.24 L1313.54 2612.45 L1317.09 2612.67 L1320.64 2612.88 L1324.18 2613.09 L1327.73 2613.30 L1331.28 2613.51 L1334.83 2613.71 L1338.38 2613.92 L1341.93 2614.13 L1345.48 2614.33 L1349.03 2614.53 L1352.58 2614.73 L1356.13 2614.93 L1359.68 2615.13 L1363.23 2615.33 L1366.78 2615.53 L1370.33 2615.73 L1373.88 2615.92 L1377.43 2616.12 L1380.98 2616.31 L1384.53 2616.50 L1388.08 2616.69 L1391.63 2616.88 L1395.18 2617.07 L1398.73 2617.26 L1402.28 2617.45 L1405.83 2617.64 L1409.38 2617.82 L1412.93 2618.01 L1416.47 2618.19 L1420.02 2618.37 L1423.57 2618.56 L1427.12 2618.74 L1430.67 2618.92 L1434.22 2619.10 L1437.77 2619.28 L1441.32 2619.45 L1444.87 2619.63 L1448.42 2619.81 L1451.97 2619.98 L1455.52 2620.16 L1459.07 2620.33 L1462.62 2620.50 L1466.17 2620.68 L1469.72 2620.85 L1473.27 2621.02 L1476.82 2621.19 L1480.37 2621.36 L1483.92 2621.53 L1487.47 2621.70 L1491.02 2621.86 L1494.57 2622.03 L1498.12 2622.20 L1501.67 2622.36 L1505.21 2622.53 L1508.76 2622.69 L1512.31 2622.86 L1515.86 2623.02 L1519.41 2623.18 L1522.96 2623.34 L1526.51 2623.51 L1530.06 2623.67 L1533.61 2623.83 L1537.16 2623.99 L1540.71 2624.15 L1544.26 2624.31 L1547.81 2624.47 L1551.36 2624.62 L1554.91 2624.78 L1558.46 2624.94 L1562.01 2625.10 L1565.56 2625.26 L1569.11 2625.41 L1572.66 2625.57 L1576.21 2625.73 L1579.76 2625.88 L1583.31 2626.04 L1586.86 2626.19 L1590.41 2626.35 L1593.96 2626.50 L1597.50 2626.66 L1601.05 2626.81 L1604.60 2626.97 L1608.15 2627.12 L1611.70 2627.28 L1615.25 2627.43 L1618.80 2627.59 L1622.35 2627.74 L1625.90 2627.90 L1629.45 2628.05 L1633.00 2628.21 L1636.55 2628.36 L1640.10 2628.52" stroke="#0000FF" stroke-dasharray="6.80 13.70"/>
<path d="M223.81 2449.61 L227.36 2450.79 L230.91 2451.95 L234.45 2453.11 L238.00 2454.25 L241.55 2455.38 L245.10 2456.50 L248.65 2457.61 L252.20 2458.70 L255.75 2459.79 L259.30 2460.86 L262.85 2461.92 L266.40 2462.97 L269.95 2464.00 L273.50 2465.03 L277.05 2466.05 L280.60 2467.05 L284.15 2468.05 L287.70 2469.03 L291.25 2470.01 L294.80 2470.97 L298.35 2471.93 L301.90 2472.87 L305.45 2473.81 L309.00 2474.74 L312.55 2475.65 L316.10 2476.56 L319.65 2477.46 L323.20 2478.35 L326.74 2479.23 L330.29 2480.10 L333.84 2480.96 L337.39 2481.81 L340.94 2482.66 L344.49 2483.50 L348.04 2484.32 L351.59 2485.15 L355.14 2485.96 L358.69 2486.76 L362.24 2487.56 L365.79 2488.35 L369.34 2489.13 L372.89 2489.90 L376.44 2490.67 L379.99 2491.43 L383.54 2492.18 L387.09 2492.92 L390.64 2493.66 L394.19 2494.39 L397.74 2495.11 L401.29 2495.83 L404.84 2496.54 L408.39 2497.24 L411.94 2497.94 L415.48 2498.63 L419.03 2499.31 L422.58 2499.99 L426.13 2500.66 L429.68 2501.32 L433.23 2501.98 L436.78 2502.64 L440.33 2503.28 L443.88 2503.92 L447.43 2504.56 L450.98 2505.19 L454.53 2505.81 L458.08 2506.43 L461.63 2507.04 L465.18 2507.65 L468.73 2508.25 L472.28 2508.84 L475.83 2509.43 L479.38 2510.02 L482.93 2510.60 L486.48 2511.18 L490.03 2511.75 L493.58 2512.31 L497.13 2512.87 L500.68 2513.43 L504.23 2513.98 L507.77 2514.52 L511.32 2515.06 L514.87 2515.60 L518.42 2516.13 L521.97 2516.66 L525.52 2517.18 L529.07 2517.70 L532.62 2518.22 L536.17 2518.73 L539.72 2519.23 L543.27 2519.73 L546.82 2520.23 L550.37 2520.73 L553.92 2521.22 L557.47 2521.70 L561.02 2522.18 L564.57 2522.66 L568.12 2523.13 L571.67 2523.60 L575.22 2524.07 L578.77 2524.53 L582.32 2524.99 L585.87 2525.45 L589.42 2525.90 L592.97 2526.35 L596.51 2526.79 L600.06 2527.23 L603.61 2527.67 L607.16 2528.10 L610.71 2528.53 L614.26 2528.96 L617.81 2529.39 L621.36 2529.81 L624.91 2530.22 L628.46 2530.64 L632.01 2531.05 L635.56 2531.46 L639.11 2531.87 L642.66 2532.27 L646.21 2532.67 L649.76 2533.06 L653.31 2533.46 L656.86 2533.85 L660.41 2534.24 L663.96 2534.62 L667.51 2535.00 L671.06 2535.38 L674.61 2535.76 L678.16 2536.14 L681.71 2536.51 L685.26 2536.88 L688.80 2537.24 L692.35 2537.61 L695.90 2537.97 L699.45 2538.33 L703.00 2538.68 L706.55 2539.04 L710.10 2539.39 L713.65 2539.74 L717.20 2540.09 L720.75 2540.43 L724.30 2540.77 L727.85 2541.11 L731.40 2541.45 L734.95 2541.79 L738.50 2542.12 L742.05 2542.45 L745.60 2542.78 L749.15 2543.11 L752.70 2543.43 L756.25 2543.76 L759.80 2544.08 L763.35 2544.40 L766.90 2544.71 L770.45 2545.03 L774.00 2545.34 L777.55 2545.65 L781.09 2545.96 L784.64 2546.27 L788.19 2546.58 L791.74 2546.88 L795.29 2547.18 L798.84 2547.48 L802.39 2547.78 L805.94 2548.08 L809.49 2548.37 L813.04 2548.66 L816.59 2548.95 L820.14 2549.24 L823.69 2549.53 L827.24 2549.82 L830.79 2550.10 L834.34 2550.39 L837.89 2550.67 L841.44 2550.95 L844.99 2551.23 L848.54 2551.50 L852.09 2551.78 L855.64 2552.05 L859.19 2552.32 L862.74 2552.60 L866.29 2552.86 L869.83 2553.13 L873.38 2553.40 L876.93 2553.66 L880.48 2553.93 L884.03 2554.19 L887.58 2554.45 L891.13 2554.71 L894.68 2554.97 L898.23 2555.23 L901.78 2555.48 L905.33 2555.74 L908.88 2555.99 L912.43 2556.24 L915.98 2556.49 L919.53 2556.74 L923.08 2556.99 L926.63 2557.24 L930.18 2557.48 L933.73 2557.73 L937.28 2557.97 L940.83 2558.21 L944.38 2558.45 L947.93 2558.69 L951.48 2558.93 L955.03 2559.17 L958.58 2559.41 L962.12 2559.64 L965.67 2559.88 L969.22 2560.11 L972.77 2560.34 L976.32 2560.58 L979.87 2560.81 L983.42 2561.04 L986.97 2561.26 L990.52 2561.49 L994.07 2561.72 L997.62 2561.94 L1001.17 2562.17 L1004.72 2562.39 L1008.27 2562.61 L1011.82 2562.83 L1015.37 2563.06 L1018.92 2563.28 L1022.47 2563.49 L1026.02 2563.71 L1029.57 2563.93 L1033.12 2564.14 L1036.67 2564.36 L1040.22 2564.57 L1043.77 2564.79 L1047.32 2565.00 L1050.86 2565.21 L1054.41 2565.42 L1057.96 2565.63 L1061.51 2565.84 L1065.06 2566.05 L1068.61 2566.26 L1072.16 2566.46 L1075.71 2566.67 L1079.26 2566.88 L1082.81 2567.08 L1086.36 2567.28 L1089.91 2567.49 L1093.46 2567.69 L1097.01 2567.89 L1100.56 2568.09 L1104.11 2568.29 L1107.66 2568.49 L1111.21 2568.69 L1114.76 2568.88 L1118.31 2569.08 L1121.86 2569.28 L1125.41 2569.47 L1128.96 2569.67 L1132.51 2569.86 L1136.06 2570.06 L1139.61 2570.25 L1143.15 2570.44 L1146.70 2570.63 L1150.25 2570.82 L1153.80 2571.01 L1157.35 2571.20 L1160.90 2571.39 L1164.45 2571.58 L1168.00 2571.76 L1171.55 2571.95 L1175.10 2572.14 L1178.65 2572.32 L1182.20 2572.51 L1185.75 2572.69 L1189.30 2572.87 L1192.85 2573.06 L1196.40 2573.24 L1199.95 2573.42 L1203.50 2573.60 L1207.05 2573.78 L1210.60 2573.96 L1214.15 2574.14 L1217.70 2574.32 L1221.25 2574.49 L1224.80 2574.67 L1228.35 2574.85 L1231.89 2575.02 L1235.44 2575.20 L1238.99 2575.37 L1242.54 2575.55 L1246.09 2575.72 L1249.64 2575.89 L1253.19 2576.07 L1256.74 2576.24 L1260.29 2576.41 L1263.84 2576.58 L1267.39 2576.75 L1270.94 2576.92 L1274.49 2577.09 L1278.04 2577.26 L1281.59 2577.42 L1285.14 2577.59 L1288.69 2577.76 L1292.24 2577.92 L1295.79 2578.09 L1299.34 2578.25 L1302.89 2578.42 L1306.44 2578.58 L1309.99 2578.74 L1313.54 2578.91 L1317.09 2579.07 L1320.64 2579.23 L1324.18 2579.39 L1327.73 2579.55 L1331.28 2579.71 L1334.83 2579.87 L1338.38 2580.03 L1341.93 2580.19 L1345.48 2580.35 L1349.03 2580.50 L1352.58 2580.66 L1356.13 2580.82 L1359.68 2580.97 L1363.23 2581.13 L1366.78 2581.28 L1370.33 2581.43 L1373.88 2581.59 L1377.43 2581.74 L1380.98 2581.89 L1384.53 2582.04 L1388.08 2582.20 L1391.63 2582.35 L1395.18 2582.50 L1398.73 2582.65 L1402.28 2582.79 L1405.83 2582.94 L1409.38 2583.09 L1412.93 2583.24 L1416.47 2583.38 L1420.02 2583.53 L1423.57 2583.68 L1427.12 2583.82 L1430.67 2583.97 L1434.22 2584.11 L1437.77 2584.25 L1441.32 2584.40 L1444.87 2584.54 L1448.42 2584.68 L1451.97 2584.82 L1455.52 2584.96 L1459.07 2585.10 L1462.62 2585.24 L1466.17 2585.38 L1469.72 2585.52 L1473.27 2585.66 L1476.82 2585.80 L1480.37 2585.93 L1483.92 2586.07 L1487.47 2586.20 L1491.02 2586.34 L1494.57 2586.47 L1498.12 2586.61 L1501.67 2586.74 L1505.21 2586.87 L1508.76 2587.01 L1512.31 2587.14 L1515.86 2587.27 L1519.41 2587.40 L1522.96 2587.53 L1526.51 2587.66 L1530.06 2587.79 L1533.61 2587.92 L1537.16 2588.05 L1540.71 2588.17 L1544.26 2588.30 L1547.81 2588.43 L1551.36 2588.55 L1554.91 2588.68 L1558.46 2588.80 L1562.01 2588.92 L1565.56 2589.05 L1569.11 2589.17 L1572.66 2589.29 L1576.21 2589.41 L1579.76 2589.53 L1583.31 2589.65 L1586.86 2589.77 L1590.41 2589.89 L1593.96 2590.01 L1597.50 2590.13 L1601.05 2590.25 L1604.60 2590.36 L1608.15 2590.48 L1611.70 2590.59 L1615.25 2590.71 L1618.80 2590.82 L1622.35 2590.94" stroke="#EEC56E" stroke-dasharray="23.30 15.50 2.60 15.70"/>
</g>
<g stroke="#000" stroke-width="4.5" fill="none" stroke-linecap="butt">
<rect x="209.5" y="1592.1" width="1430.60" height="1159.90"/>
<path d="M352.56 2752.0 V2740.80 M495.62 2752.0 V2729.20 M638.68 2752.0 V2740.80 M781.74 2752.0 V2729.20 M924.80 2752.0 V2740.80 M1067.86 2752.0 V2729.20 M1210.92 2752.0 V2740.80 M1353.98 2752.0 V2729.20 M1497.04 2752.0 V2740.80 M209.5 2636.01 H220.40 M209.5 2520.02 H232.00 M209.5 2404.03 H220.40 M209.5 2288.04 H232.00 M209.5 2172.05 H220.40 M209.5 2056.06 H232.00 M209.5 1940.07 H220.40 M209.5 1824.08 H232.00 M209.5 1708.09 H220.40 "/>
</g>
<g class="t">
<text transform="matrix(1.0 0 0 1 195.50 2804.00)" font-size="56.0">0</text>
<text transform="matrix(1.0 0 0 1 481.93 2804.00)" font-size="56.0">2</text>
<text transform="matrix(1.0 0 0 1 767.63 2804.00)" font-size="56.0">4</text>
<text transform="matrix(1.0 0 0 1 1053.49 2804.00)" font-size="56.0">6</text>
<text transform="matrix(1.0 0 0 1 1339.98 2804.00)" font-size="56.0">8</text>
<text transform="matrix(1.0 0 0 1 1611.31 2804.00)" font-size="56.0">10</text>
<text transform="matrix(1.0 0 0 1 156.93 2756.00)" font-size="56.0">0</text>
<text transform="matrix(1.0 0 0 1 158.16 2524.02)" font-size="56.0">1</text>
<text transform="matrix(1.0 0 0 1 157.89 2292.04)" font-size="56.0">2</text>
<text transform="matrix(1.0 0 0 1 156.99 2060.06)" font-size="56.0">3</text>
<text transform="matrix(1.0 0 0 1 155.68 1828.08)" font-size="56.0">4</text>
<text transform="matrix(1.0 0 0 1 156.99 1596.10)" font-size="56.0">5</text>
</g>
<g class="t">
<text transform="matrix(1.0509 0 0 1 885.53 2868.30)" font-size="69.18" font-style="italic" fill="#000">N</text>
<text transform="matrix(1.1006 0 0 1 933.14 2886.47)" font-size="41.58" font-style="italic" fill="#000">a</text>
<text style="stroke-width:2px" transform="matrix(0 -1.0525 1 0 110.71 2287.33)" font-size="69.95" font-style="italic" fill="#000">γ</text>
<text transform="matrix(0 -1.0634 1 0 128.75 2258.50)" font-size="45.67" fill="#000">eff</text>
<text style="stroke-width:2.4px" transform="matrix(0 -1.0142 1 0 126.21 2207.50)" font-size="101.50" fill="#000">/</text>
<text style="stroke-width:2px" transform="matrix(0 -1.0346 1 0 110.71 2179.81)" font-size="69.95" font-style="italic" fill="#000">γ</text>
<text transform="matrix(0 -1.0442 1 0 127.49 2150.50)" font-size="44.52" fill="#000">glass</text>
<text transform="matrix(0.8524 0 0 1 276.07 1695.71)" font-size="67.60" fill="#000">(</text>
<text transform="matrix(1.0875 0 0 1 298.10 1694.71)" font-size="60.12" fill="#000">b</text>
<text transform="matrix(0.8409 0 0 1 331.67 1695.71)" font-size="67.60" fill="#000">)</text>
</g>
<g fill="none" stroke-linecap="round" stroke-width="4.7">
<path d="M1045.15 1681.3 H1245.15" stroke="#FF0000"/>
<path d="M1045.15 1792.5 H1245.15" stroke="#0000FF" stroke-dasharray="6.80 13.70"/>
<path d="M1045.15 1903.8 H1245.15" stroke="#EEC56E" stroke-dasharray="23.30 15.50 2.60 15.70"/>
</g>
<g class="t">
<text style="stroke-width:1.3px" transform="matrix(1.0134 0 0 1 1271.18 1700.70)" font-size="65.31" font-style="italic" fill="#000">L</text>
<text transform="matrix(1.5626 0 0 1 1323.11 1699.38)" font-size="55.55" fill="#000">=</text>
<text transform="matrix(0.9732 0 0 1 1391.20 1700.28)" font-size="61.74" fill="#000">10</text>
<text transform="matrix(1.1434 0 0 1 1472.43 1700.10)" font-size="57.29" fill="#000">nm</text>
<text style="stroke-width:1.3px" transform="matrix(1.0134 0 0 1 1271.18 1812.10)" font-size="65.31" font-style="italic" fill="#000">L</text>
<text transform="matrix(1.5626 0 0 1 1323.11 1810.78)" font-size="55.55" fill="#000">=</text>
<text transform="matrix(0.9497 0 0 1 1392.59 1811.68)" font-size="61.74" fill="#000">40</text>
<text transform="matrix(1.1434 0 0 1 1472.43 1811.50)" font-size="57.29" fill="#000">nm</text>
<text style="stroke-width:1.3px" transform="matrix(1.0134 0 0 1 1271.18 1923.50)" font-size="65.31" font-style="italic" fill="#000">L</text>
<text transform="matrix(1.5626 0 0 1 1323.11 1922.18)" font-size="55.55" fill="#000">=</text>
<text transform="matrix(0.9499 0 0 1 1392.58 1923.08)" font-size="61.74" fill="#000">80</text>
<text transform="matrix(1.1434 0 0 1 1472.43 1922.90)" font-size="57.29" fill="#000">nm</text>
</g>
<g stroke="#111" stroke-width="1.3">
<rect x="1067.8" y="2188.6" width="476.3" height="100.2" fill="#00FFFF"/>
<rect x="1067.8" y="2288.8" width="476.3" height="100.2" fill="#FFFF00"/>
</g>
<g class="t">
<text style="stroke:#0ff" transform="matrix(1.0233 0 0 1 1126.53 2257.90)" font-size="63.58" fill="#000">HITC:PMMA</text>
<text style="stroke:#ff0" transform="matrix(0.9696 0 0 1 1267.28 2358.46)" font-size="65.23" fill="#000">Au</text>
<text style="stroke-width:1.3px" transform="matrix(1.0192 0 0 1 985.69 2256.60)" font-size="65.98" font-style="italic" fill="#000">L</text>
</g>
<path d="M1039.1 2200 V2280" stroke="#000" stroke-width="1.3" fill="none"/>
<path d="M1039.1 2190.2 Q1041.10 2206.20 1047.50 2223.40 L1039.1 2214.00 L1030.70 2223.40 Q1037.10 2206.20 1039.1 2190.2 Z" fill="#000"/>
<path d="M1039.1 2290.5 Q1041.10 2274.50 1047.50 2257.30 L1039.1 2266.70 L1030.70 2257.30 Q1037.10 2274.50 1039.1 2290.5 Z" fill="#000"/>
</svg>
</body></html>
